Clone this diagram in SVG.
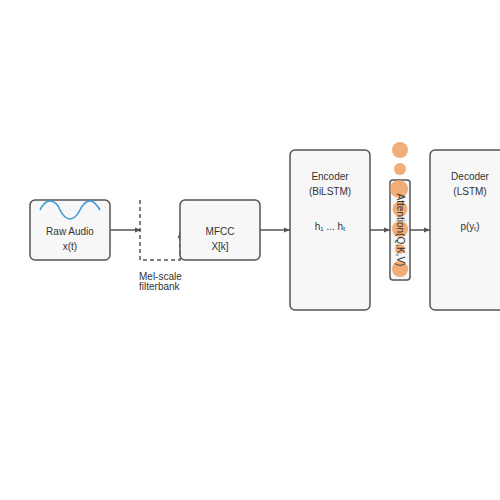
<svg xmlns="http://www.w3.org/2000/svg" width="500" height="500" viewBox="0 0 500 500">
<style>
.box{fill:#f7f7f7;stroke:#555;stroke-width:1.5}
.lbl{font-family:"Liberation Sans",Arial,sans-serif;font-size:10px;fill:#333;text-anchor:middle}
.note{font-family:"Liberation Sans",Arial,sans-serif;font-size:10px;fill:#333}
.conn{fill:none;stroke:#555;stroke-width:1.5}
.dash{fill:none;stroke:#555;stroke-width:1.5;stroke-dasharray:4,3}
.dot{fill:#eea060;fill-opacity:0.85}
</style>
<defs>
<marker id="ah" viewBox="0 0 10 10" refX="10" refY="5" markerWidth="6" markerHeight="6" markerUnits="userSpaceOnUse" orient="auto">
<path d="M0,1 L10,5 L0,9 Z" fill="#555"/>
</marker>
</defs>
<rect width="500" height="500" fill="#fff"/>
<g id="connectors">
<line class="conn" x1="110" y1="230" x2="141" y2="230" marker-end="url(#ah)" style="marker-end:url(#ah)"/>
<path class="dash" d="M140,200 V260 H180 V232" marker-end="url(#ah)"/>
<line class="conn" x1="260" y1="230" x2="290" y2="230" marker-end="url(#ah)"/>
<line class="conn" x1="370" y1="230" x2="390" y2="230" marker-end="url(#ah)"/>
<line class="conn" x1="410" y1="230" x2="430" y2="230" marker-end="url(#ah)"/>
</g>
<g id="raw-audio">
<rect class="box" x="30" y="200" width="80" height="60" rx="5"/>
<path d="M40,210 C43,204 46,201 50,201 C55,201 58,205 60,210 C63,216 66,219 70,219 C74,219 77,216 80,210 C83,204 86,201 90,201 C94,201 97,205 100,210" fill="none" stroke="#3a9ad9" stroke-width="1.6"/>
<text class="lbl" x="70" y="235">Raw Audio</text>
<text class="lbl" x="70" y="250">x(t)</text>
</g>
<g id="mel-label">
<text class="note" x="139" y="280">Mel-scale</text>
<text class="note" x="139" y="290">filterbank</text>
</g>
<g id="mfcc">
<rect class="box" x="180" y="200" width="80" height="60" rx="5"/>
<text class="lbl" x="220" y="235">MFCC</text>
<text class="lbl" x="220" y="250">X[k]</text>
</g>
<g id="encoder">
<rect class="box" x="290" y="150" width="80" height="160" rx="5"/>
<text class="lbl" x="330" y="180">Encoder</text>
<text class="lbl" x="330" y="195">(BiLSTM)</text>
<text class="lbl" x="330" y="230">h₁ ... hₜ</text>
</g>
<g id="attention">
<rect class="box" x="390" y="180" width="20" height="100" rx="3"/>
<circle class="dot" cx="400" cy="150" r="8"/>
<circle class="dot" cx="400" cy="169" r="6"/>
<circle class="dot" cx="399" cy="189" r="9"/>
<circle class="dot" cx="400" cy="209" r="7.5"/>
<circle class="dot" cx="400" cy="229" r="8"/>
<circle class="dot" cx="400" cy="249" r="5"/>
<circle class="dot" cx="400" cy="269" r="8"/>
<text class="lbl" x="0" y="0" transform="translate(400,230) rotate(90)" dy="3.5">Attention(Q,K,V)</text>
</g>
<g id="decoder">
<rect class="box" x="430" y="150" width="80" height="160" rx="5"/>
<text class="lbl" x="470" y="180">Decoder</text>
<text class="lbl" x="470" y="195">(LSTM)</text>
<text class="lbl" x="470" y="230">p(yₜ)</text>
</g>
</svg>
